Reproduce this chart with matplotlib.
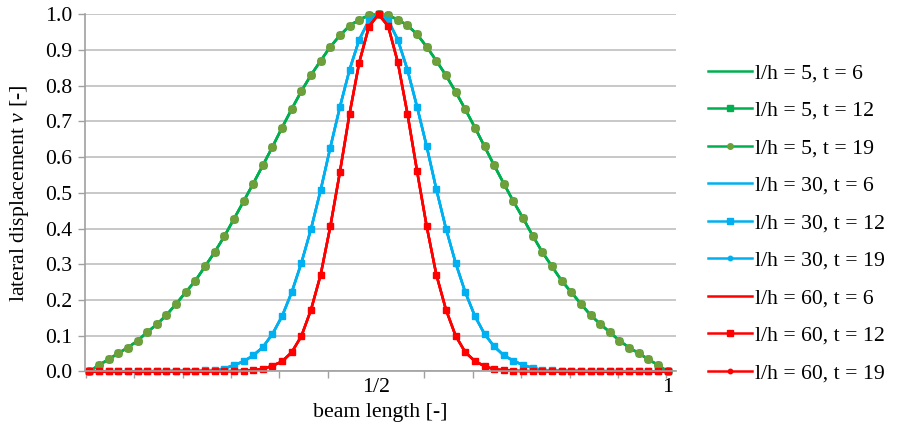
import numpy as np
import matplotlib
matplotlib.use("Agg")
import matplotlib.pyplot as plt

plt.rcParams["font.family"] = ["Liberation Serif", "DejaVu Serif"]
plt.rcParams["mathtext.fontset"] = "custom"
plt.rcParams["mathtext.rm"] = "Liberation Serif"
plt.rcParams["mathtext.it"] = "Liberation Serif:italic"

# Data (61 stations along the beam)
beam_pos = np.linspace(0, 1, 61)

v_lh5 = [0.000, 0.018, 0.034, 0.051, 0.067, 0.086, 0.110, 0.132, 0.158, 0.189,
         0.222, 0.254, 0.294, 0.334, 0.378, 0.427, 0.476, 0.526, 0.577, 0.629,
         0.683, 0.735, 0.785, 0.830, 0.870, 0.909, 0.941, 0.968, 0.985, 0.997,
         1.000,
         0.997, 0.985, 0.969, 0.944, 0.909, 0.870, 0.829, 0.783, 0.734, 0.683,
         0.630, 0.577, 0.526, 0.476, 0.429, 0.380, 0.334, 0.294, 0.254, 0.222,
         0.189, 0.158, 0.133, 0.110, 0.086, 0.067, 0.051, 0.034, 0.018, 0.000]

v_lh30 = [0.000, 0.000, 0.000, 0.000, 0.000, 0.001, 0.001, 0.001, 0.001, 0.002,
          0.002, 0.002, 0.003, 0.004, 0.008, 0.018, 0.028, 0.045, 0.068, 0.105,
          0.155, 0.222, 0.304, 0.399, 0.508, 0.627, 0.741, 0.845, 0.929, 0.983,
          1.000,
          0.983, 0.929, 0.845, 0.741, 0.630, 0.510, 0.400, 0.304, 0.222, 0.155,
          0.105, 0.070, 0.045, 0.030, 0.018, 0.010, 0.004, 0.003, 0.002, 0.002,
          0.002, 0.001, 0.001, 0.001, 0.001, 0.000, 0.000, 0.000, 0.000, 0.000]

v_lh60 = [0.000, 0.000, 0.000, 0.000, 0.000, 0.000, 0.000, 0.000, 0.000, 0.000,
          0.000, 0.000, 0.000, 0.001, 0.001, 0.001, 0.002, 0.004, 0.007, 0.016,
          0.028, 0.054, 0.099, 0.173, 0.271, 0.406, 0.559, 0.722, 0.865, 0.965,
          1.000,
          0.967, 0.866, 0.722, 0.561, 0.406, 0.271, 0.173, 0.100, 0.054, 0.029,
          0.015, 0.006, 0.004, 0.002, 0.001, 0.001, 0.001, 0.000, 0.000, 0.000,
          0.000, 0.000, 0.000, 0.000, 0.000, 0.000, 0.000, 0.000, 0.000, 0.000]

ratios = [5, 30, 60]
times = [6, 12, 19]
series = {5: v_lh5, 30: v_lh30, 60: v_lh60}
colors = {5: "#00B050", 30: "#00B0F0", 60: "#FF0000"}
dot_colors = {5: "#6E9F3B", 30: "#00B0F0", 60: "#FF0000"}

fs = 15.7

fig = plt.figure(figsize=(8.98, 4.37), dpi=100)
ax = fig.add_axes([0.0947, 0.1499, 0.6581, 0.8174])

for lh in ratios:
    c = colors[lh]
    y = series[lh]
    ax.plot(beam_pos, y, color=c, lw=1.8, label=f"l/h = {lh}, t = 6", clip_on=False)
    ax.plot(beam_pos, y, color=c, lw=1.8, marker="s", ms=4.6, mec=c, mfc=c,
            label=f"l/h = {lh}, t = 12", clip_on=False)
    if lh == 5:
        ax.plot(beam_pos, y, color=c, lw=1.8, marker="o", ms=5.5,
                mec=dot_colors[lh], mfc=dot_colors[lh],
                label=f"l/h = {lh}, t = 19", clip_on=False)
    else:
        ax.plot(beam_pos, y, color=c, lw=1.8, marker="o", ms=3.2, mec=c, mfc=c,
                label=f"l/h = {lh}, t = 19", clip_on=False)

ax.set_xlim(-0.0074, 1.0144)
ax.set_ylim(0, 1.0)
ax.set_yticks(np.arange(0, 1.01, 0.1))
ax.set_yticklabels([f"{v:.1f}" for v in np.arange(0, 1.01, 0.1)], fontsize=fs)

tick_pos = -0.0057 + np.arange(13) * 0.0836
ax.set_xticks(tick_pos, minor=True)
ax.set_xticks([tick_pos[6], 1.0])
ax.set_xticklabels(["1/2", "1"], fontsize=fs)
ax.tick_params(axis="x", which="major", length=0, pad=5)
ax.tick_params(axis="x", which="minor", length=5, color="#A0A0A0", width=1)
ax.tick_params(axis="y", length=5, color="#A0A0A0", width=1, pad=4)

ax.grid(axis="y", color="#BFBFBF", lw=1.2)
ax.set_axisbelow(True)
for s in ["top", "right"]:
    ax.spines[s].set_visible(False)
for s in ["left", "bottom"]:
    ax.spines[s].set_color("#A0A0A0")
    ax.spines[s].set_linewidth(1.2)

ax.set_xlabel("beam length [-]", fontsize=fs, labelpad=4)
ax.set_ylabel(r"lateral displacement $\it{v}$ [-]", fontsize=fs, labelpad=10)

leg = ax.legend(loc="upper left", bbox_to_anchor=(708 / 898, 1 - 63 / 437),
                bbox_transform=fig.transFigure, frameon=False, fontsize=fs,
                borderpad=0, borderaxespad=0, handlelength=2.0, handletextpad=0.15,
                labelspacing=0.79)
leg.legend_handles[2].set_markersize(4)

fig.savefig("out.png", dpi=100)
